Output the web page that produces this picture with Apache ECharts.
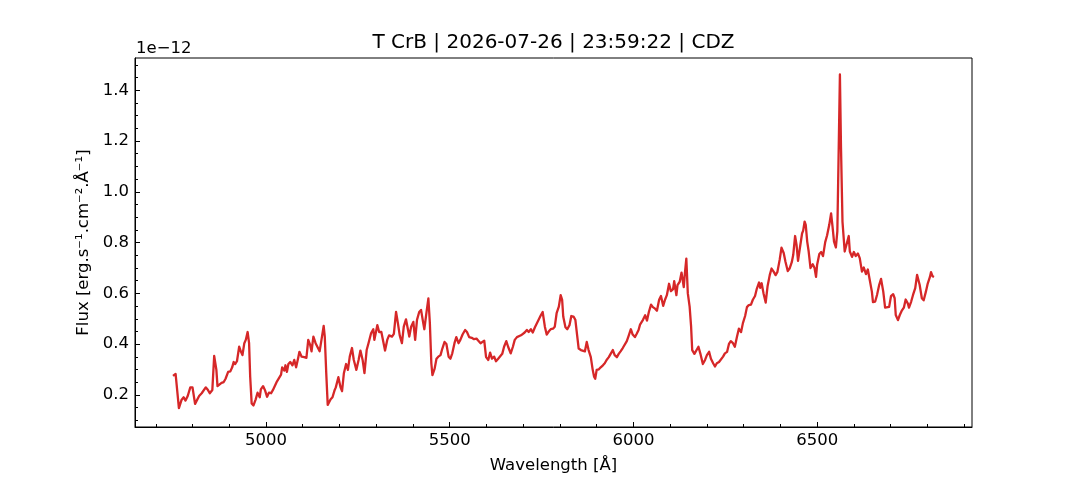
<!DOCTYPE html>
<html>
<head>
<meta charset="utf-8">
<title>T CrB spectrum</title>
<script src="https://cdn.jsdelivr.net/npm/echarts@6.0.0/dist/echarts.min.js"></script>
<style>
    html, body { margin: 0; padding: 0; background: #fff; }
    #main { width: 1080px; height: 480px; }
</style>
</head>
<body>
<div id="main"></div>
<script>
// wavelength in Angstrom
var wavelength = [
    4747, 4754, 4763, 4770, 4776, 4781, 4787, 4794, 4800, 4807, 4812, 4818, 4825, 4830, 4836, 4841, 4847, 4850, 4854, 4859,
    4865, 4868, 4872, 4879, 4885, 4890, 4897, 4903, 4908, 4912, 4916, 4921, 4927, 4932, 4936, 4941, 4945, 4950, 4954, 4957,
    4961, 4966, 4972, 4977, 4983, 4986, 4992, 4997, 5003, 5008, 5014, 5019, 5024, 5030, 5035, 5041, 5044, 5050, 5053, 5057,
    5061, 5066, 5072, 5077, 5082, 5088, 5091, 5097, 5104, 5110, 5115, 5120, 5124, 5129, 5135, 5140, 5146, 5151, 5157, 5160,
    5164, 5168,
    5170, 5176, 5181, 5187, 5190, 5197, 5203, 5207, 5212, 5218, 5223, 5228, 5234, 5239, 5246, 5252, 5257, 5263, 5268, 5274,
    5279, 5286, 5292, 5295, 5303, 5308, 5314, 5319, 5324, 5330, 5335, 5343, 5348, 5354, 5359, 5364, 5370, 5375, 5381, 5386,
    5390, 5395, 5401, 5406, 5411, 5417, 5422, 5428, 5431, 5437, 5442, 5446, 5450, 5453, 5459, 5464, 5469, 5475, 5480, 5486,
    5491, 5497, 5502, 5507, 5513, 5518, 5524, 5529, 5535, 5542, 5547, 5553, 5560, 5566, 5573, 5578, 5584,
    5588, 5594, 5599, 5605, 5610, 5615, 5621, 5626, 5632, 5637, 5643, 5648, 5654, 5659, 5666, 5672, 5677, 5683, 5688, 5694,
    5699, 5704, 5710, 5715, 5721, 5726, 5732, 5737, 5742, 5748, 5753, 5759, 5764, 5770, 5775, 5781, 5786, 5791, 5797, 5802,
    5806, 5809, 5815, 5820, 5826, 5831, 5837, 5842, 5847, 5851, 5857, 5862, 5868, 5873, 5878, 5884, 5889, 5893, 5896, 5900,
    5906, 5911, 5917, 5922, 5927, 5933, 5938, 5944, 5949, 5955, 5960, 5965, 5971, 5976, 5982, 5987, 5993, 5998, 6004, 6009,
    6014, 6018,
    6021, 6026, 6032, 6037, 6042, 6048, 6053, 6059, 6064, 6070, 6075, 6081, 6086, 6091, 6097, 6102, 6108, 6111, 6117, 6120,
    6126, 6131, 6137, 6140, 6144, 6148, 6153, 6157, 6160, 6166, 6171, 6177, 6182, 6189, 6195, 6200, 6206, 6211, 6217, 6222,
    6227, 6233, 6238, 6244, 6249, 6255, 6260, 6265, 6271, 6276, 6282, 6287, 6293, 6298, 6304, 6309, 6314, 6320, 6325, 6331,
    6336, 6342, 6345, 6349, 6354, 6360, 6365, 6371, 6376, 6382, 6387, 6392, 6398, 6403, 6409, 6414, 6420, 6425,
    6431, 6435, 6440, 6444, 6448, 6453, 6459, 6462, 6466, 6469, 6473, 6477, 6482, 6488, 6493, 6497, 6500, 6506, 6511, 6516,
    6522, 6527, 6533, 6538, 6542, 6546, 6551, 6555, 6558, 6562, 6565, 6569, 6575, 6580, 6586, 6589, 6595, 6600, 6605, 6611,
    6616, 6622, 6627, 6633, 6638, 6643, 6649, 6652, 6658, 6663, 6669, 6674, 6680, 6685, 6690, 6696, 6701, 6707, 6711, 6714,
    6720, 6725, 6730, 6736, 6741, 6747, 6750, 6756, 6761, 6767, 6772, 6776, 6779, 6785, 6790, 6796, 6801, 6807, 6810, 6814,
    6818
];

// flux in units of 1e-12 erg/s/cm2/A
var flux = [
    0.275, 0.283, 0.148, 0.180, 0.191, 0.178, 0.196, 0.230, 0.230, 0.165, 0.170, 0.196, 0.207, 0.209, 0.230, 0.222, 0.207, 0.201, 0.220, 0.354,
    0.299, 0.235, 0.238, 0.248, 0.251, 0.264, 0.291, 0.293, 0.309, 0.330, 0.322, 0.333, 0.390, 0.370, 0.357, 0.404, 0.417, 0.448, 0.404, 0.272,
    0.167, 0.159, 0.183, 0.209, 0.191, 0.222, 0.235, 0.220, 0.193, 0.209, 0.207, 0.220, 0.225, 0.254, 0.248, 0.280, 0.309, 0.296, 0.317, 0.291,
    0.322, 0.330, 0.317, 0.338, 0.309, 0.349, 0.370, 0.351, 0.349, 0.346, 0.417, 0.398, 0.372, 0.430, 0.404, 0.406, 0.372, 0.417, 0.472, 0.430,
    0.286, 0.161,
    0.157, 0.183, 0.191, 0.220, 0.230, 0.270, 0.230, 0.215, 0.286, 0.322, 0.299, 0.351, 0.385, 0.338, 0.299, 0.338, 0.375, 0.338, 0.286, 0.377,
    0.404, 0.443, 0.459, 0.417, 0.475, 0.448, 0.448, 0.451, 0.375, 0.417, 0.435, 0.430, 0.441, 0.527, 0.483, 0.435, 0.404, 0.469, 0.498, 0.496,
    0.430, 0.469, 0.488, 0.417, 0.496, 0.527, 0.535, 0.483, 0.459, 0.527, 0.580, 0.483, 0.325, 0.278, 0.304, 0.343, 0.351, 0.357, 0.383, 0.409,
    0.401, 0.351, 0.343, 0.364, 0.404, 0.428, 0.404, 0.417, 0.438, 0.456, 0.448, 0.428, 0.425, 0.420, 0.422, 0.414, 0.404,
    0.409, 0.414, 0.349, 0.338, 0.367, 0.343, 0.351, 0.333, 0.343, 0.341, 0.362, 0.390, 0.412, 0.390, 0.364, 0.390, 0.417, 0.428, 0.433, 0.435,
    0.441, 0.446, 0.456, 0.448, 0.459, 0.446, 0.467, 0.472, 0.496, 0.514, 0.527, 0.469, 0.438, 0.451, 0.459, 0.461, 0.469, 0.522, 0.548, 0.593,
    0.575, 0.509, 0.467, 0.459, 0.475, 0.511, 0.509, 0.496, 0.433, 0.383, 0.377, 0.375, 0.372, 0.409, 0.377, 0.349, 0.301, 0.272, 0.264, 0.299,
    0.301, 0.309, 0.317, 0.325, 0.338, 0.349, 0.362, 0.377, 0.357, 0.349, 0.362, 0.372, 0.385, 0.390, 0.412, 0.433, 0.459, 0.438, 0.428, 0.441,
    0.456, 0.477,
    0.480, 0.496, 0.514, 0.493, 0.527, 0.556, 0.546, 0.540, 0.532, 0.575, 0.590, 0.551, 0.575, 0.593, 0.638, 0.609, 0.617, 0.648, 0.593, 0.633,
    0.646, 0.682, 0.625, 0.677, 0.737, 0.601, 0.548, 0.469, 0.377, 0.362, 0.367, 0.390, 0.364, 0.322, 0.338, 0.357, 0.370, 0.343, 0.325, 0.312,
    0.325, 0.330, 0.333, 0.351, 0.364, 0.370, 0.401, 0.412, 0.404, 0.390, 0.430, 0.461, 0.448, 0.483, 0.511, 0.546, 0.554, 0.556, 0.575, 0.590,
    0.619, 0.643, 0.622, 0.640, 0.601, 0.564, 0.627, 0.672, 0.698, 0.685, 0.672, 0.685, 0.732, 0.780, 0.759, 0.724, 0.688, 0.698,
    0.723, 0.752, 0.826, 0.791, 0.728, 0.778, 0.836, 0.847, 0.883, 0.870, 0.804, 0.765, 0.700, 0.715, 0.700, 0.665, 0.713, 0.755, 0.763, 0.747,
    0.802, 0.828, 0.870, 0.915, 0.862, 0.804, 0.781, 0.844, 1.107, 1.462, 1.173, 0.883, 0.765, 0.765, 0.826, 0.765, 0.744, 0.763, 0.747, 0.757,
    0.739, 0.686, 0.702, 0.676, 0.694, 0.692, 0.607, 0.566, 0.568, 0.594, 0.634, 0.657, 0.607, 0.544, 0.542, 0.547, 0.589, 0.597, 0.581, 0.515,
    0.495, 0.515, 0.531, 0.544, 0.576, 0.560, 0.544, 0.568, 0.594, 0.621, 0.673, 0.678, 0.634, 0.581, 0.573, 0.607, 0.639, 0.665, 0.684, 0.668,
    0.665
];

var xTicks = [5000, 5500, 6000, 6500];
var yTicks = [0.2, 0.4, 0.6, 0.8, 1.0, 1.2, 1.4];

var titleText = 'T CrB | 2026-07-26 | 23:59:22 | CDZ';
var fontFamily = 'DejaVu Sans';

function draw() {
    var points = [];
    var n = Math.min(wavelength.length, flux.length);
    for (var i = 0; i < n; i++) {
        points.push([wavelength[i], flux[i]]);
    }

    // minor ticks every 100 A and every 0.05
    var xMinor = [];
    for (var w = 4700; w <= 6900; w += 100) {
        if (w % 500 !== 0) xMinor.push(w);
    }
    var yMinor = [];
    for (var k = 2; k <= 30; k++) {
        if (k % 4 !== 0) yMinor.push(Math.round(k * 5) / 100);
    }

    var myChart = echarts.init(document.getElementById('main'), null, {
        width: 1080,
        height: 480
    });

    var xMin = 4643.5, xMax = 6921.5;
    var yMin = 0.074, yMax = 1.527;

    var option = {
        animation: false,
        backgroundColor: '#fff',
        grid: {
            left: 135, right: 108, top: 58, bottom: 53,
            show: true, borderColor: '#000', borderWidth: 1
        },
        graphic: [
            {
                type: 'text', x: 553.5, y: 33,
                style: { text: titleText, fill: '#000', font: '20px "DejaVu Sans"', textAlign: 'center' }
            },
            {
                type: 'text', x: 136, y: 40,
                style: { text: '1e\u221212', fill: '#000', font: '16.5px "DejaVu Sans"' }
            }
        ],
        xAxis: [
            {
                type: 'value', min: xMin, max: xMax, position: 'bottom',
                name: 'Wavelength [\u00c5]', nameLocation: 'middle', nameGap: 30,
                nameTextStyle: { color: '#000', fontSize: 16.5, fontFamily: fontFamily },
                axisLine: { lineStyle: { color: '#000', width: 1 } },
                splitLine: { show: false },
                axisTick: { inside: true, length: 5, customValues: xTicks, lineStyle: { color: '#000' } },
                axisLabel: {
                    customValues: xTicks, color: '#000', fontSize: 16.5, fontFamily: fontFamily, margin: 5,
                    formatter: function (v) { return String(v); }
                }
            },
            {
                type: 'value', min: xMin, max: xMax, position: 'bottom',
                axisLine: { show: false },
                splitLine: { show: false },
                axisTick: { inside: true, length: 3, customValues: xMinor, lineStyle: { color: '#000' } },
                axisLabel: { show: false }
            }
        ],
        yAxis: [
            {
                type: 'value', min: yMin, max: yMax, position: 'left',
                name: 'Flux [erg.s\u207b\u00b9.cm\u207b\u00b2.\u00c5\u207b\u00b9]', nameLocation: 'middle', nameGap: 35,
                nameTextStyle: { color: '#000', fontSize: 16.5, fontFamily: fontFamily },
                axisLine: { lineStyle: { color: '#000', width: 1 } },
                splitLine: { show: false },
                axisTick: { inside: true, length: 5, customValues: yTicks, lineStyle: { color: '#000' } },
                axisLabel: {
                    customValues: yTicks, color: '#000', fontSize: 16.5, fontFamily: fontFamily, margin: 6,
                    formatter: function (v) { return v.toFixed(1); }
                }
            },
            {
                type: 'value', min: yMin, max: yMax, position: 'left',
                axisLine: { show: false },
                splitLine: { show: false },
                axisTick: { inside: true, length: 3, customValues: yMinor, lineStyle: { color: '#000' } },
                axisLabel: { show: false }
            }
        ],
        series: [
            {
                type: 'line',
                data: points,
                xAxisIndex: 0,
                yAxisIndex: 0,
                showSymbol: false,
                lineStyle: { color: '#d62728', width: 2.3, join: 'round' },
                itemStyle: { color: '#d62728' }
            }
        ]
    };
    myChart.setOption(option);
}

draw();
</script>
</body>
</html>
